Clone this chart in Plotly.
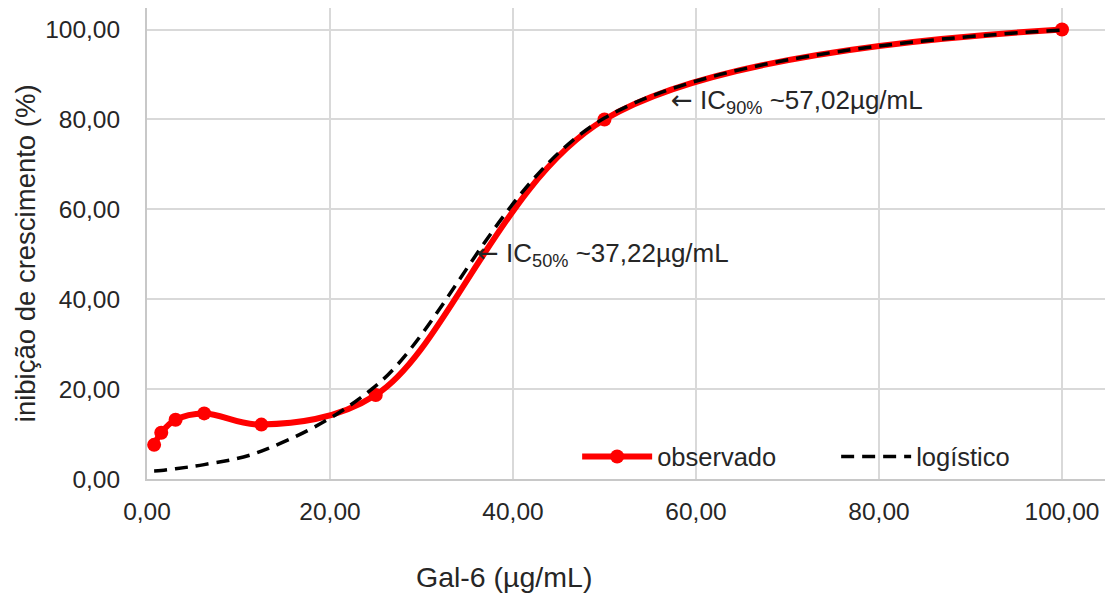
import plotly.graph_objects as go

# concentrations (µg/mL)
conc = [0.78, 1.56, 3.125, 6.25, 12.5, 25, 50, 100]
# observed inhibition (%)
observado = [7.6, 10.3, 13.2, 14.6, 12.1, 18.7, 80.0, 100.0]
# logistic fit values read at same concentrations
logistico = [1.8, 1.9, 2.3, 3.2, 6.2, 20.7, 80.3, 99.9]

x_ticks = [0, 20, 40, 60, 80, 100]
y_ticks = [0, 20, 40, 60, 80, 100]

FONT = "Liberation Sans, Arial, sans-serif"
TXT = "#262626"
ARROW = "<span style=\"font-family:'DejaVu Sans'\">←</span>"

fig = go.Figure()
fig.add_trace(go.Scatter(
    x=conc, y=observado, name="observado", mode="lines+markers",
    line=dict(color="#ff0000", width=6, shape="spline", smoothing=1),
    marker=dict(color="#ff0000", size=14),
))
fig.add_trace(go.Scatter(
    x=conc, y=logistico, name="logístico", mode="lines",
    line=dict(color="#000000", width=3.5, dash="13px,8px", shape="spline", smoothing=1),
))

fig.add_annotation(x=35.8, y=50, xref="x", yref="y", xanchor="left", yanchor="middle",
                   text=ARROW + " IC<sub>50%</sub> ~37,22µg/mL", showarrow=False,
                   font=dict(family=FONT, size=26, color=TXT))
fig.add_annotation(x=57.0, y=84, xref="x", yref="y", xanchor="left", yanchor="middle",
                   text=ARROW + " IC<sub>90%</sub> ~57,02µg/mL", showarrow=False,
                   font=dict(family=FONT, size=26, color=TXT))
fig.add_annotation(x=0.373, y=-0.208, xref="paper", yref="paper", xanchor="center", yanchor="middle",
                   text="Gal-6 (µg/mL)", showarrow=False,
                   font=dict(family=FONT, size=28.5, color=TXT))
fig.add_annotation(x=-0.126, y=0.48, xref="paper", yref="paper", xanchor="center", yanchor="middle",
                   text="inibição de crescimento (%)", textangle=-90, showarrow=False,
                   font=dict(family=FONT, size=27.5, color=TXT))

fig.update_layout(
    width=1107, height=596,
    margin=dict(l=147, r=2, t=8, b=117),
    paper_bgcolor="white", plot_bgcolor="white",
    separators=",.",
    font=dict(family=FONT, size=24, color=TXT),
    showlegend=True,
    legend=dict(orientation="h", x=0.449, y=0.047, xanchor="left", yanchor="middle",
                bgcolor="rgba(0,0,0,0)", font=dict(family=FONT, size=25.5, color=TXT),
                itemwidth=70, entrywidth=174),
)
fig.update_xaxes(range=[0, 104.7], tickvals=x_ticks, tickformat=".2f",
                 showgrid=True, gridcolor="#d9d9d9", gridwidth=2,
                 showline=True, linecolor="#c8c8c8", linewidth=2, zeroline=False,
                 ticks="", ticklabelstandoff=10,
                 tickfont=dict(family=FONT, size=24.5, color=TXT))
fig.update_yaxes(range=[0, 104.8], tickvals=y_ticks, tickformat=".2f",
                 showgrid=True, gridcolor="#d9d9d9", gridwidth=2,
                 showline=True, linecolor="#c8c8c8", linewidth=2, zeroline=False,
                 ticks="", ticklabelstandoff=20,
                 tickfont=dict(family=FONT, size=24.5, color=TXT))

fig.write_html("out.html")
